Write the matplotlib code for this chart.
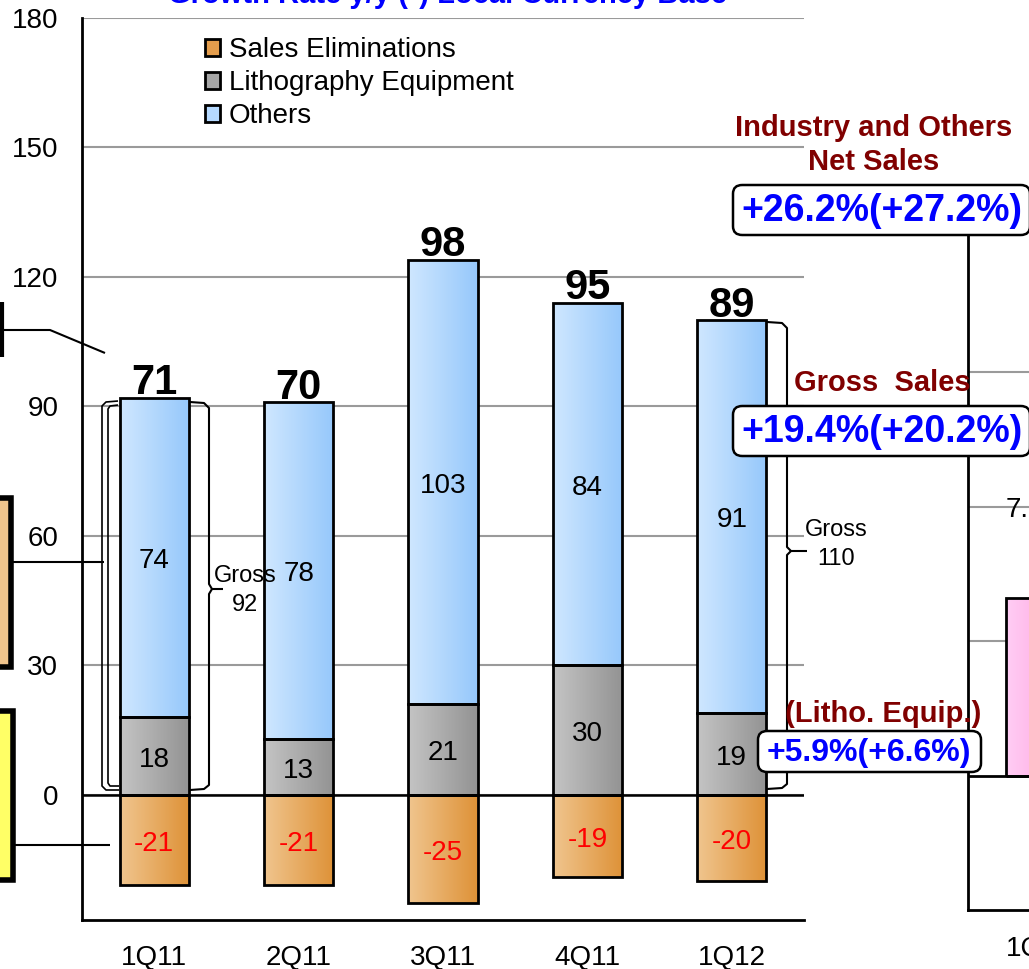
import numpy as np
import matplotlib
matplotlib.use('Agg')
import matplotlib.pyplot as plt
from matplotlib.patches import Rectangle, FancyBboxPatch, Patch
from matplotlib.lines import Line2D
from matplotlib.colors import LinearSegmentedColormap

# ---------------- data ----------------
quarters = ['1Q11', '2Q11', '3Q11', '4Q11', '1Q12']
sales_elim = [-21, -21, -25, -19, -20]
litho = [18, 13, 21, 30, 19]
others = [74, 78, 103, 84, 91]
net_sales = [71, 70, 98, 95, 89]
gross_first = 92
gross_last = 110

next_quarter = ['1Q12']
next_value = [6.6]
next_label = '7.0'

legend_labels = ['Sales Eliminations', 'Lithography Equipment', 'Others']

# ---------------- style ----------------
plt.rcParams['font.family'] = ['Liberation Sans', 'DejaVu Sans']
W, H = 1029, 969
fig = plt.figure(figsize=(W / 100, H / 100), dpi=100)


def F(x, y):
    return (x / W, 1 - y / H)


def fline(pts, lw=1.3, color='black'):
    xs = [p[0] / W for p in pts]
    ys = [1 - p[1] / H for p in pts]
    fig.add_artist(Line2D(xs, ys, transform=fig.transFigure, color=color,
                          lw=lw, solid_capstyle='butt', solid_joinstyle='round'))


def ftext(x, y, s, **kw):
    fig.text(x / W, 1 - y / H, s, **kw)


def grad_bar(axx, rect, c1, c2, z=2):
    x, y = rect.get_x(), rect.get_y()
    w, h = rect.get_width(), rect.get_height()
    cmap = LinearSegmentedColormap.from_list('g', [c1, c2])
    img = axx.imshow(np.linspace(0, 1, 64).reshape(1, -1), cmap=cmap,
                     extent=[x, x + w, min(y, y + h), max(y, y + h)],
                     aspect='auto', zorder=z, interpolation='bicubic')
    img.set_clip_path(rect)


BLUE = ('#cfe7ff', '#96c8fb')
GRAY = ('#c4c4c4', '#939393')
ORANGE = ('#f0c58e', '#de9238')
PINK = ('#ffcdf5', '#ff9ad8')

# ---------------- main axes ----------------
ax = fig.add_axes([82 / W, 1 - 920 / H, (804 - 82) / W, (920 - 18) / H])
xpos = np.arange(len(quarters))
bw = 0.48

b_el = ax.bar(xpos, sales_elim, width=bw, facecolor='none', edgecolor='black', lw=2, zorder=3)
b_li = ax.bar(xpos, litho, width=bw, facecolor='none', edgecolor='black', lw=2, zorder=3)
b_ot = ax.bar(xpos, others, bottom=litho, width=bw, facecolor='none', edgecolor='black', lw=2, zorder=3)
for r in b_el:
    grad_bar(ax, r, *ORANGE)
for r in b_li:
    grad_bar(ax, r, *GRAY)
for r in b_ot:
    grad_bar(ax, r, *BLUE)

ax.set_xlim(-0.5, len(quarters) - 0.5)
ax.set_ylim(-29, 180)
ax.set_yticks(range(0, 181, 30))
ax.set_xticks(xpos)
ax.set_xticklabels(quarters)
ax.tick_params(axis='y', length=0, pad=17, labelsize=20)
ax.tick_params(axis='x', length=0, pad=18, labelsize=20)
ax.yaxis.grid(True, color='#9a9a9a', lw=1.5)
ax.set_axisbelow(True)
ax.axhline(0, color='black', lw=1.8, zorder=4)
for s in ['top', 'right']:
    ax.spines[s].set_visible(False)
for s in ['left', 'bottom']:
    ax.spines[s].set_linewidth(2)

dy = -0.9  # small downward shift of the in-bar labels
for i in range(len(quarters)):
    ax.text(xpos[i], litho[i] + others[i] / 2 + dy, str(others[i]), ha='center', va='center',
            fontsize=20, zorder=5)
    ax.text(xpos[i], litho[i] / 2 + dy, str(litho[i]), ha='center', va='center',
            fontsize=20, zorder=5)
    ax.text(xpos[i], sales_elim[i] / 2 + dy, str(sales_elim[i]), ha='center', va='center',
            fontsize=20, color='#ff0000', zorder=5)
    ax.text(xpos[i], litho[i] + others[i] + 0.8, str(net_sales[i]), ha='center',
            va='baseline', fontsize=30, fontweight='bold', zorder=5)

handles = [Patch(facecolor='#e49d4c', edgecolor='black', lw=2),
           Patch(facecolor='#a6a6a6', edgecolor='black', lw=2),
           Patch(facecolor='#b5d9ff', edgecolor='black', lw=2)]
fig.legend(handles, legend_labels, loc='upper left', bbox_to_anchor=F(205, 37),
           frameon=False, fontsize=20, handlelength=0.55, handleheight=0.55,
           handletextpad=0.3, labelspacing=0.26, borderpad=0, borderaxespad=0)

# ---------------- secondary (next chart, cut off) ----------------
ax2 = fig.add_axes([968 / W, 1 - 910 / H, 288.6 / W, (910 - 235) / H])
nb = ax2.bar([0], next_value, width=bw, facecolor='none', edgecolor='black', lw=2, zorder=3)
for r in nb:
    grad_bar(ax2, r, *PINK)
ax2.set_xlim(-0.5, 1.5)
ax2.set_ylim(-5, 20.1)
ax2.set_yticks([5, 10, 15])
ax2.set_yticklabels([])
ax2.set_xticks([0])
ax2.set_xticklabels(next_quarter)
ax2.tick_params(axis='both', length=0, labelsize=20)
ax2.tick_params(axis='x', pad=19)
ax2.yaxis.grid(True, color='#9a9a9a', lw=1.5)
ax2.set_axisbelow(True)
ax2.axhline(0, color='black', lw=2, zorder=4)
for s in ['top', 'right']:
    ax2.spines[s].set_visible(False)
for s in ['left', 'bottom']:
    ax2.spines[s].set_linewidth(2)
ftext(1006, 510, next_label, ha='left', va='center', fontsize=20)

# ---------------- brackets ----------------
# double bracket left of first bar
fline([(118, 401), (106, 402), (102, 406), (102, 786), (106, 790), (119, 790)], lw=1.2)
fline([(118, 405), (110, 406), (108, 409), (108, 783), (110, 786), (119, 786)], lw=1.2)
# brace right of first bar
fline([(190, 402), (204, 403), (209, 408), (209, 584), (212, 589), (223, 589)], lw=1.5)
fline([(212, 589), (209, 594), (209, 785), (204, 789), (190, 790)], lw=1.5)
ftext(245, 576, 'Gross', ha='center', va='center', fontsize=17)
ftext(245, 605, str(gross_first), ha='center', va='center', fontsize=17)
# brace right of last bar
fline([(767, 322), (782, 323), (787, 328), (787, 547), (791, 551), (807, 551)], lw=1.5)
fline([(791, 551), (787, 555), (787, 784), (782, 788), (767, 789)], lw=1.5)
ftext(836, 530, 'Gross', ha='center', va='center', fontsize=17)
ftext(836, 559, str(gross_last), ha='center', va='center', fontsize=17)

# ---------------- left callouts (cut off) ----------------
fline([(2, 302), (2, 357)], lw=3)
fline([(3, 330), (50, 330), (105, 353)], lw=1.5)
fig.add_artist(Rectangle(F(-60, 667), 71 / W, (667 - 498) / H, transform=fig.transFigure,
                         facecolor='#f0c48c', edgecolor='black', lw=4))
fline([(12, 562), (104, 562)], lw=1.5)
fig.add_artist(Rectangle(F(-60, 880), 73 / W, (880 - 711) / H, transform=fig.transFigure,
                         facecolor='#ffff66', edgecolor='black', lw=4))
fline([(15, 845), (110, 845)], lw=1.5)

# ---------------- right annotations ----------------
DR = '#800000'
BL = '#0000ff'
ftext(447, 3, 'Growth Rate y/y (*) Local Currency Base', ha='center', va='baseline',
      fontsize=21, fontweight='bold', color=BL)
ftext(874, 128, 'Industry and Others', ha='center', va='center', fontsize=21,
      fontweight='bold', color=DR)
ftext(874, 162, 'Net Sales', ha='center', va='center', fontsize=21,
      fontweight='bold', color=DR)


def rbox(x0, y0, x1, y1):
    fig.add_artist(FancyBboxPatch(F(x0, y1), (x1 - x0) / W, (y1 - y0) / H,
                                  boxstyle='round,pad=0,rounding_size=0.009',
                                  transform=fig.transFigure, facecolor='white',
                                  edgecolor='black', lw=1.8, zorder=5))


rbox(733, 185, 1030, 235)
ftext(882, 211, '+26.2%(+27.2%)', ha='center', va='center', fontsize=27,
      fontweight='bold', color=BL, zorder=6)
ftext(882, 383, 'Gross  Sales', ha='center', va='center', fontsize=21,
      fontweight='bold', color=DR, zorder=6)
rbox(733, 406, 1030, 456)
ftext(882, 432, '+19.4%(+20.2%)', ha='center', va='center', fontsize=27,
      fontweight='bold', color=BL, zorder=6)
ftext(883, 714, '(Litho. Equip.)', ha='center', va='center', fontsize=21,
      fontweight='bold', color=DR, zorder=6)
rbox(758, 731, 981, 772)
ftext(869, 753, '+5.9%(+6.6%)', ha='center', va='center', fontsize=23,
      fontweight='bold', color=BL, zorder=6)

fig.savefig('out.png', dpi=100)
